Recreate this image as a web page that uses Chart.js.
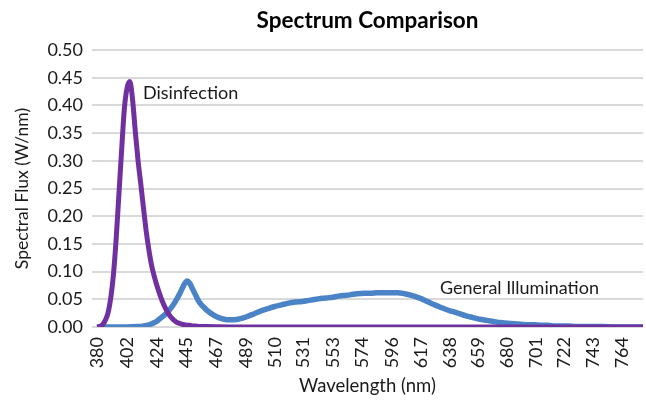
<!DOCTYPE html>
<html>
<head>
<meta charset="utf-8">
<script src="https://cdn.jsdelivr.net/npm/chart.js@4.4.1/dist/chart.umd.min.js"></script>
<style>
  html, body { margin: 0; padding: 0; background: #fff; }
  #wrap { width: 646px; height: 401px; }
</style>
</head>
<body>
<div id="wrap"><canvas id="grafica"></canvas></div>
<script>
// Datos
const tickLabels = [380, 402, 424, 445, 467, 489, 510, 531, 553, 574, 596, 617, 638, 659, 680, 701, 722, 743, 764];

const disinfectionNm = [380, 382, 384, 386, 388, 390, 392, 394, 396, 398, 400, 402, 404, 406, 408, 410, 412, 414, 416, 418,
  420, 422, 424, 426, 428, 430, 432, 434, 436, 438, 440, 442, 444, 446, 448, 450, 452, 454, 456, 458, 460,
  480, 520, 560, 600, 640, 680, 720, 760, 780];
const disinfectionFlux = [0.000, 0.001, 0.004, 0.012, 0.025, 0.052, 0.095, 0.160, 0.240, 0.320, 0.395, 0.432, 0.443, 0.410, 0.352, 0.300, 0.258, 0.214, 0.172, 0.138,
  0.110, 0.090, 0.073, 0.058, 0.045, 0.034, 0.025, 0.018, 0.013, 0.009, 0.007, 0.005, 0.004, 0.003, 0.003, 0.002, 0.002, 0.001, 0.001, 0.001, 0.001,
  0, 0, 0, 0, 0, 0, 0, 0, 0];

const generalNm = [380, 390, 400, 410, 412, 414, 416, 418, 420, 422, 424, 426, 428, 430, 432, 434, 436, 438, 440, 442, 444, 446, 448, 450, 452, 454, 456, 458, 460,
  465, 470, 475, 480, 485, 490, 495, 500, 505, 510, 515, 520, 525, 530, 535, 540, 545, 550, 555, 560, 565, 570, 575, 580, 585, 590, 595, 600,
  605, 610, 615, 620, 625, 630, 635, 640, 645, 650, 655, 660, 665, 670, 675, 680, 685, 690, 695, 700, 705, 710, 715, 720, 725, 730, 740, 750, 760, 770, 780];
const generalFlux = [0, 0, 0, 0.001, 0.001, 0.002, 0.003, 0.004, 0.006, 0.008, 0.011, 0.015, 0.019, 0.023, 0.028, 0.034, 0.041, 0.049, 0.058, 0.068, 0.078, 0.083, 0.078, 0.068, 0.058, 0.048, 0.041, 0.036, 0.031,
  0.022, 0.016, 0.013, 0.013, 0.015, 0.019, 0.024, 0.029, 0.033, 0.037, 0.040, 0.043, 0.045, 0.046, 0.048, 0.050, 0.052, 0.053, 0.055, 0.057, 0.058, 0.060, 0.061, 0.061, 0.062, 0.062, 0.062, 0.062,
  0.060, 0.057, 0.053, 0.048, 0.042, 0.037, 0.032, 0.028, 0.024, 0.020, 0.017, 0.014, 0.012, 0.010, 0.008, 0.007, 0.006, 0.005, 0.004, 0.004, 0.003, 0.003, 0.002, 0.002, 0.002, 0.001, 0.001, 0.001, 0, 0, 0];

// Etiquetas dentro del grafico (en unidades de datos)
const etiquetas = [
  { texto: 'Disinfection', nm: 413.6, valor: 0.4224 },
  { texto: 'General Illumination', nm: 630.8, valor: 0.0704 }
];

const FUENTE = 'Lato, "Open Sans", sans-serif';

function toPuntos(xs, ys) {
  return xs.map((x, i) => ({ x: x, y: ys[i] }));
}

const pluginEtiquetas = {
  id: 'etiquetas',
  afterDatasetsDraw(chart) {
    const ctx = chart.ctx;
    const sx = chart.scales.x;
    const sy = chart.scales.y;
    ctx.save();
    ctx.font = '18px ' + FUENTE;
    ctx.fillStyle = '#1a1a1a';
    ctx.textAlign = 'left';
    ctx.textBaseline = 'middle';
    etiquetas.forEach(e => {
      ctx.fillText(e.texto, sx.getPixelForValue(e.nm), sy.getPixelForValue(e.valor));
    });
    ctx.restore();
  }
};

const ctx = document.getElementById('grafica').getContext('2d');
new Chart(ctx, {
  type: 'line',
  data: {
    datasets: [
      {
        label: 'Disinfection',
        data: toPuntos(disinfectionNm, disinfectionFlux),
        borderColor: '#7030a0',
        borderWidth: 5,
        pointRadius: 0,
        cubicInterpolationMode: 'monotone',
        fill: false
      },
      {
        label: 'General Illumination',
        data: toPuntos(generalNm, generalFlux),
        borderColor: '#4a84c6',
        borderWidth: 5.5,
        pointRadius: 0,
        cubicInterpolationMode: 'monotone',
        fill: false
      }
    ]
  },
  options: {
    responsive: true,
    maintainAspectRatio: false,
    animation: false,
    layout: { padding: { left: 0, right: 3, top: 0, bottom: 0 } },
    plugins: {
      legend: { display: false },
      tooltip: { enabled: false },
      title: {
        display: true,
        fullSize: false,
        text: 'Spectrum Comparison',
        color: '#000',
        font: { family: FUENTE, size: 22.5, weight: 'bold', lineHeight: 1.2 },
        padding: { top: 7, bottom: 16 }
      }
    },
    scales: {
      x: {
        type: 'linear',
        min: 376.3,
        max: 779.4,
        afterBuildTicks: (scale) => {
          scale.ticks = tickLabels.map(v => ({ value: v }));
        },
        afterFit: (scale) => {
          scale.height = 74;
          scale.paddingLeft = 0;
          scale.paddingRight = 0;
        },
        grid: { display: false, drawTicks: false },
        border: { display: false },
        ticks: {
          autoSkip: false,
          minRotation: 90,
          maxRotation: 90,
          padding: 10,
          color: '#1a1a1a',
          font: { family: FUENTE, size: 18 },
          callback: (v) => String(v)
        },
        title: {
          display: true,
          text: 'Wavelength (nm)',
          color: '#1a1a1a',
          font: { family: FUENTE, size: 18.5, lineHeight: 1.2 },
          padding: { top: 0, bottom: 4 }
        }
      },
      y: {
        min: 0,
        max: 0.5,
        afterFit: (scale) => { scale.width = 92; },
        grid: { color: '#d9d9d9', lineWidth: 2, drawTicks: false },
        border: { display: false },
        ticks: {
          stepSize: 0.05,
          padding: 9,
          color: '#1a1a1a',
          font: { family: FUENTE, size: 18 },
          callback: (v) => Number(v).toFixed(2)
        },
        title: {
          display: true,
          text: 'Spectral Flux (W/nm)',
          color: '#1a1a1a',
          font: { family: FUENTE, size: 17.5, lineHeight: 1.2 },
          padding: { top: 12, bottom: 0 }
        }
      }
    }
  },
  plugins: [pluginEtiquetas]
});
</script>
</body>
</html>
